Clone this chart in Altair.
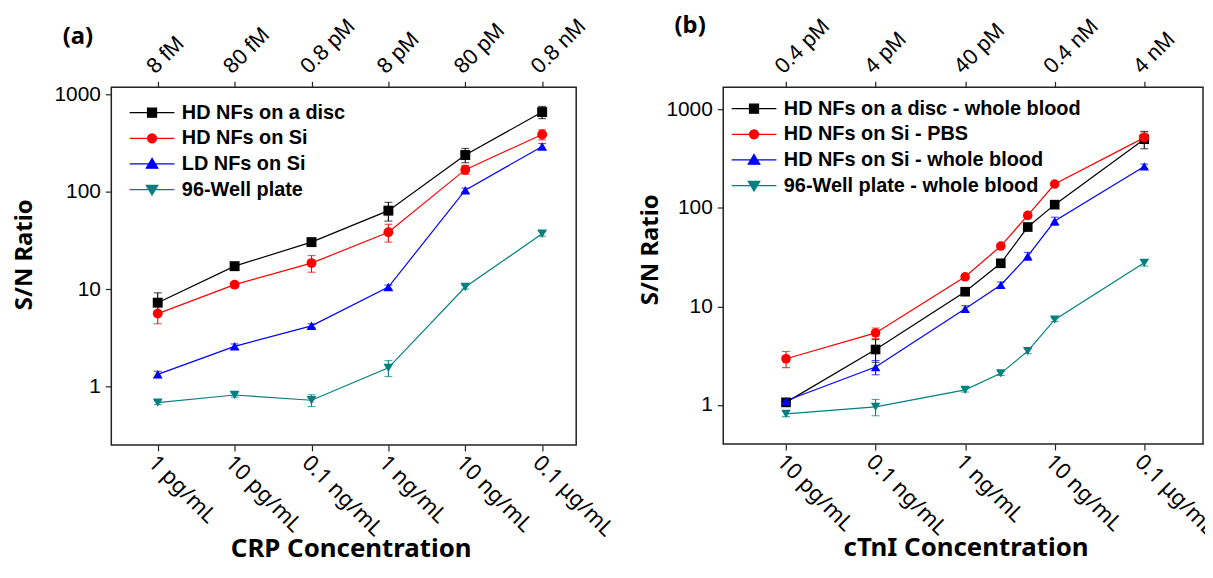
import math
import altair as alt
import pandas as pd

# ---------------- data ----------------
COLORS = ["#000000", "#ff0000", "#0000ff", "#008080"]
MARKERS = ["square", "circle", "triangle-up", "triangle-down"]
MARKER_SIZES = [100, 90, 130, 130]

# Panel (a): CRP
CRP_CONC = [1, 10, 100, 1000, 10000, 100000]  # pg/mL
CRP_BOTTOM_LABELS = ["1 pg/mL", "10 pg/mL", "0.1 ng/mL", "1 ng/mL", "10 ng/mL", "0.1 μg/mL"]
CRP_TOP_LABELS = ["8 fM", "80 fM", "0.8 pM", "8 pM", "80 pM", "0.8 nM"]
CRP_SERIES = ["HD NFs on a disc", "HD NFs on Si", "LD NFs on Si", "96-Well plate"]
CRP_DISC = [7.25, 17.2, 30.4, 64, 239, 660]
CRP_DISC_ERR = [1.9, 0.8, 2.2, 14, 40, 95]
CRP_HDSI = [5.6, 11.1, 18.5, 38.4, 169, 388]
CRP_HDSI_ERR = [1.2, 0.6, 3.6, 8, 18, 46]
CRP_LDSI = [1.33, 2.58, 4.19, 10.5, 104, 293]
CRP_LDSI_ERR = [0.1, 0.15, 0.2, 0.5, 5, 20]
CRP_WELL = [0.68, 0.815, 0.72, 1.55, 10.5, 37]
CRP_WELL_ERR = [0.03, 0.04, 0.1, 0.29, 0.5, 2]

# Panel (b): cTnI
TNI_CONC = [10, 100, 1000, 2500, 5000, 10000, 100000]  # pg/mL
TNI_TICKS = [10, 100, 1000, 10000, 100000]
TNI_BOTTOM_LABELS = ["10 pg/mL", "0.1 ng/mL", "1 ng/mL", "10 ng/mL", "0.1 μg/mL"]
TNI_TOP_LABELS = ["0.4 pM", "4 pM", "40 pM", "0.4 nM", "4 nM"]
TNI_SERIES = ["HD NFs on a disc - whole blood", "HD NFs on Si - PBS",
              "HD NFs on Si - whole blood", "96-Well plate - whole blood"]
TNI_DISC = [1.06, 3.65, 14.1, 27.4, 64, 108, 499]
TNI_DISC_ERR = [0.05, 0.95, 1.0, 1.5, 3, 6, 100]
TNI_PBS = [2.94, 5.38, 20, 41, 84, 175, 518]
TNI_PBS_ERR = [0.55, 0.65, 1, 2, 5, 8, 60]
TNI_BLOOD = [1.1, 2.42, 9.46, 16.5, 32.4, 73.6, 264]
TNI_BLOOD_ERR = [0.06, 0.4, 0.7, 1.2, 3, 7, 15]
TNI_WELL = [0.81, 0.955, 1.42, 2.09, 3.51, 7.33, 27.7]
TNI_WELL_ERR = [0.05, 0.18, 0.07, 0.1, 0.2, 0.3, 2]

Y_TICKS = [1, 10, 100, 1000]

# legend symbols: a 45px line with the marker in its middle (symbol size 100 -> 5px per unit)
LEGEND_PATHS = [
    "M-4.5,0H4.5M-0.9,-0.9H0.9V0.9H-0.9Z",
    "M-4.5,0H4.5M0.9,0A0.9,0.9,0,1,1,-0.9,0A0.9,0.9,0,1,1,0.9,0Z",
    "M-4.5,0H4.5M0,-1.1L1.15,0.85H-1.15Z",
    "M-4.5,0H4.5M0,1.1L1.15,-0.85H-1.15Z",
]

LABEL_FONT = "Liberation Sans"
KFONT = "Noto Sans"


def make_df(conc, series, values, errors):
    rows = []
    for s, vals, errs in zip(series, values, errors):
        for c, v, e in zip(conc, vals, errs):
            rows.append({"series": s, "conc": c, "value": v, "lo": v - e, "hi": v + e})
    return pd.DataFrame(rows)


def label_expr(labels, first_tick):
    arr = "[" + ",".join("'" + s + "'" for s in labels) + "]"
    k = round(math.log10(first_tick))
    return f"{arr}[round(log(datum.value)/LN10) - {k}]"


def panel(df, series, ticks, bottom_labels, top_labels, xdom, ydom, width, height,
          xtitle, xtitle_x, ytitle_y, ytitle_pad, tag, tag_offset, legend_x, legend_y):
    xscale = alt.Scale(type="log", domain=xdom)
    yscale = alt.Scale(type="log", domain=ydom)
    color = alt.Color("series:N", scale=alt.Scale(domain=series, range=COLORS), legend=None)

    x_bottom = alt.X(
        "conc:Q", scale=xscale,
        axis=alt.Axis(orient="bottom", values=ticks, labelExpr=label_expr(bottom_labels, ticks[0]),
                      labelAngle=45, labelAlign="left", labelBaseline="middle",
                      labelFont=KFONT, labelFontSize=22, labelPadding=8, labelOffset=-6,
                      labelColor="black",
                      tickSize=6, grid=False, domain=False, labelFlush=False, labelOverlap=False,
                      title=xtitle, titleFont=KFONT, titleFontSize=26, titleFontWeight="bold",
                      titleColor="black", titlePadding=-4, titleX=xtitle_x))
    x_top = alt.X(
        "conc:Q", scale=xscale,
        axis=alt.Axis(orient="top", values=ticks, labelExpr=label_expr(top_labels, ticks[0]),
                      labelAngle=315, labelAlign="left", labelBaseline="middle",
                      labelFont=LABEL_FONT, labelFontSize=22, labelPadding=12, labelOffset=-8,
                      labelColor="black",
                      tickSize=6, grid=False, domain=False, labelFlush=False, labelOverlap=False,
                      title=None))
    x_none = alt.X("conc:Q", scale=xscale, axis=None)
    y_axis = alt.Y(
        "value:Q", scale=yscale,
        axis=alt.Axis(values=Y_TICKS, format="d", labelFont=LABEL_FONT, labelFontSize=21,
                      labelPadding=5, labelColor="black", tickSize=6, grid=False, domain=False,
                      labelFlush=False,
                      title="S/N Ratio", titleFont=KFONT, titleFontSize=24, titleFontWeight="bold",
                      titleColor="black", titlePadding=ytitle_pad, titleY=ytitle_y))
    y_none = alt.Y("value:Q", scale=yscale, axis=None)

    base = alt.Chart(df)
    lines = base.mark_line(strokeWidth=1.2).encode(x=x_bottom, y=y_axis, color=color)
    bars = base.mark_rule(strokeWidth=1.1).encode(
        x=x_none, y=alt.Y("lo:Q", scale=yscale, axis=None), y2="hi:Q", color=color)
    cap_lo = base.mark_tick(orient="horizontal", size=8, thickness=1.1).encode(
        x=x_none, y=alt.Y("lo:Q", scale=yscale, axis=None), color=color)
    cap_hi = base.mark_tick(orient="horizontal", size=8, thickness=1.1).encode(
        x=x_none, y=alt.Y("hi:Q", scale=yscale, axis=None), color=color)
    points = base.mark_point(filled=True, opacity=1).encode(
        x=x_top, y=y_none, color=color,
        shape=alt.Shape("series:N", scale=alt.Scale(domain=series, range=MARKERS), legend=None),
        size=alt.Size("series:O", scale=alt.Scale(domain=series, range=MARKER_SIZES), legend=None))

    leg = alt.Legend(orient="none", legendX=legend_x, legendY=legend_y, title=None,
                     symbolSize=100, symbolStrokeWidth=1.3, symbolOpacity=1,
                     labelFont=LABEL_FONT, labelFontSize=20, labelFontWeight="bold",
                     labelColor="black", labelOffset=20, rowPadding=5.8, labelLimit=600)
    legend_layer = base.transform_filter("false").mark_point(filled=True).encode(
        x=x_none, y=y_none,
        fill=alt.Fill("series:N", scale=alt.Scale(domain=series, range=COLORS), legend=leg),
        stroke=alt.Stroke("series:N", scale=alt.Scale(domain=series, range=COLORS), legend=leg),
        shape=alt.Shape("series:N", scale=alt.Scale(domain=series, range=LEGEND_PATHS), legend=leg))

    return alt.layer(lines, bars, cap_lo, cap_hi, points, legend_layer).resolve_scale(
        shape="independent", fill="independent", stroke="independent"
    ).resolve_axis(x="independent", y="independent").properties(
        width=width, height=height,
        title=alt.TitleParams(tag, anchor="start", frame="group", dx=-49, offset=tag_offset,
                              font=KFONT, fontSize=24, fontWeight="bold", color="black"))


df_a = make_df(CRP_CONC, CRP_SERIES,
               [CRP_DISC, CRP_HDSI, CRP_LDSI, CRP_WELL],
               [CRP_DISC_ERR, CRP_HDSI_ERR, CRP_LDSI_ERR, CRP_WELL_ERR])
df_b = make_df(TNI_CONC, TNI_SERIES,
               [TNI_DISC, TNI_PBS, TNI_BLOOD, TNI_WELL],
               [TNI_DISC_ERR, TNI_PBS_ERR, TNI_BLOOD_ERR, TNI_WELL_ERR])

pa = panel(df_a, CRP_SERIES, CRP_CONC, CRP_BOTTOM_LABELS, CRP_TOP_LABELS,
           [0.249, 277300], [0.25, 1186], 468, 360, "CRP Concentration", 241, 168, 18,
           "(a)", -35, 31, 15.5)
pb = panel(df_b, TNI_SERIES, TNI_TICKS, TNI_BOTTOM_LABELS, TNI_TOP_LABELS,
           [1.99, 453000], [0.401, 1679], 483, 359, "cTnI Concentration", 244, 163, 3,
           "(b)", -24, 21, 11.5)

chart = alt.hconcat(pa, pb, spacing=148, bounds="flush").properties(
    autosize=alt.AutoSizeParams(type="none"),
    padding={"left": 104, "top": 78, "right": 1101, "bottom": 478}
).configure_view(stroke="#222222", strokeWidth=1.5).configure_axis(
    tickColor="#222222", tickWidth=1.2
)

chart.save("out.html", embed_options={"renderer": "svg", "actions": False})
